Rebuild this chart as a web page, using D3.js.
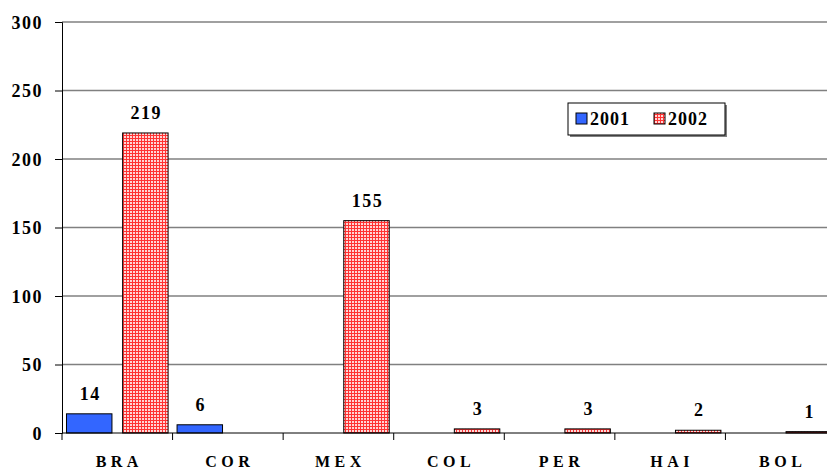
<!DOCTYPE html>
<html><head><meta charset="utf-8">
<script src="https://cdn.jsdelivr.net/npm/d3@7"></script>
<style>body{margin:0;background:#fff}svg{display:block}
svg text{font-family:"Liberation Serif","Times New Roman",serif;font-weight:bold;fill:#000}
</style>
</head><body><svg id="c" width="827" height="471"></svg>
<script>
const categories = ["BRA","COR","MEX","COL","PER","HAI","BOL"];
const series2001 = [14, 6, null, null, null, null, null];
const series2002 = [219, null, 155, 3, 3, 2, 1];
const seriesNames = ["2001","2002"];
const yTicks = [0,50,100,150,200,250,300];

(function(){
const svg = d3.select("#c");
const defs = svg.append("defs");
const pat = defs.append("pattern").attr("id","hatch").attr("patternUnits","userSpaceOnUse")
  .attr("width",3).attr("height",3);
pat.append("rect").attr("width",3).attr("height",3).attr("fill","#ffd6d6");
pat.append("rect").attr("x",0).attr("y",0).attr("width",1).attr("height",3).attr("fill","#ff3333");
pat.append("rect").attr("x",0).attr("y",0).attr("width",3).attr("height",1).attr("fill","#ff3333");

const mLeft = 62, mTop = 22, mBottom = 433, mRight = 836;
const x = d3.scaleBand().domain(categories).range([mLeft,mRight]);
const x1 = d3.scaleBand().domain(seriesNames).range([0,x.bandwidth()]).paddingInner(0.19).paddingOuter(0.08);
const y = d3.scaleLinear().domain([0,300]).range([mBottom,mTop]);

svg.append("g").selectAll("line").data(yTicks.filter(d=>d>0)).join("line")
  .attr("x1",mLeft).attr("x2",mRight).attr("y1",d=>y(d)).attr("y2",d=>y(d))
  .attr("stroke","#808080").attr("stroke-width",1.5);

const ya = svg.append("g").attr("transform",`translate(${mLeft},0)`)
  .call(d3.axisLeft(y).tickValues(yTicks).tickSize(7).tickPadding(12));
ya.select(".domain").attr("stroke","#000");
ya.selectAll(".tick line").attr("stroke","#000");
ya.selectAll("text").style("font-size","18px").style("letter-spacing","1.5px").attr("dy","0.36em");

const data = categories.map((c,i)=>({c, v:[series2001[i], series2002[i]]}));
const g = svg.append("g");
data.forEach(d=>{
  d.v.forEach((v,k)=>{
    if(v==null) return;
    const bx = x(d.c)+x1(seriesNames[k]);
    g.append("rect").attr("x",bx).attr("y",y(v)).attr("width",x1.bandwidth()).attr("height",y(0)-y(v))
      .attr("fill",k===0?"#3366ff":"url(#hatch)").attr("stroke","#000").attr("stroke-width",1);
    g.append("text").attr("x",bx+x1.bandwidth()/2+1).attr("y",y(v)-14).attr("text-anchor","middle")
      .style("font-size","18px").style("letter-spacing","1.5px").text(v);
  });
});

svg.append("line").attr("x1",mLeft).attr("x2",mRight).attr("y1",mBottom).attr("y2",mBottom).attr("stroke","#000");
const bounds = categories.map(c=>x(c));
svg.append("g").selectAll("line").data(bounds).join("line")
  .attr("x1",d=>d).attr("x2",d=>d).attr("y1",mBottom).attr("y2",mBottom+7).attr("stroke","#000");
svg.append("g").selectAll("text").data(categories).join("text")
  .attr("x",d=>x(d)+x.bandwidth()/2+2).attr("y",467).attr("text-anchor","middle")
  .style("font-size","16px").style("letter-spacing","4.5px")
  .text(d=>d);

const lg = svg.append("g");
lg.append("rect").attr("x",570).attr("y",105).attr("width",157).attr("height",32).attr("fill","#808080");
lg.append("rect").attr("x",568).attr("y",103).attr("width",157).attr("height",32).attr("fill","#fff").attr("stroke","#000").attr("stroke-width",1);
seriesNames.forEach((s,k)=>{
  const lx = 576 + k*78;
  lg.append("rect").attr("x",lx).attr("y",113).attr("width",11).attr("height",11)
    .attr("fill",k===0?"#3366ff":"url(#hatch)").attr("stroke","#000");
  lg.append("text").attr("x",lx+14).attr("y",125).style("font-size","18px").style("letter-spacing","1px").text(s);
});
})();
</script></body></html>
